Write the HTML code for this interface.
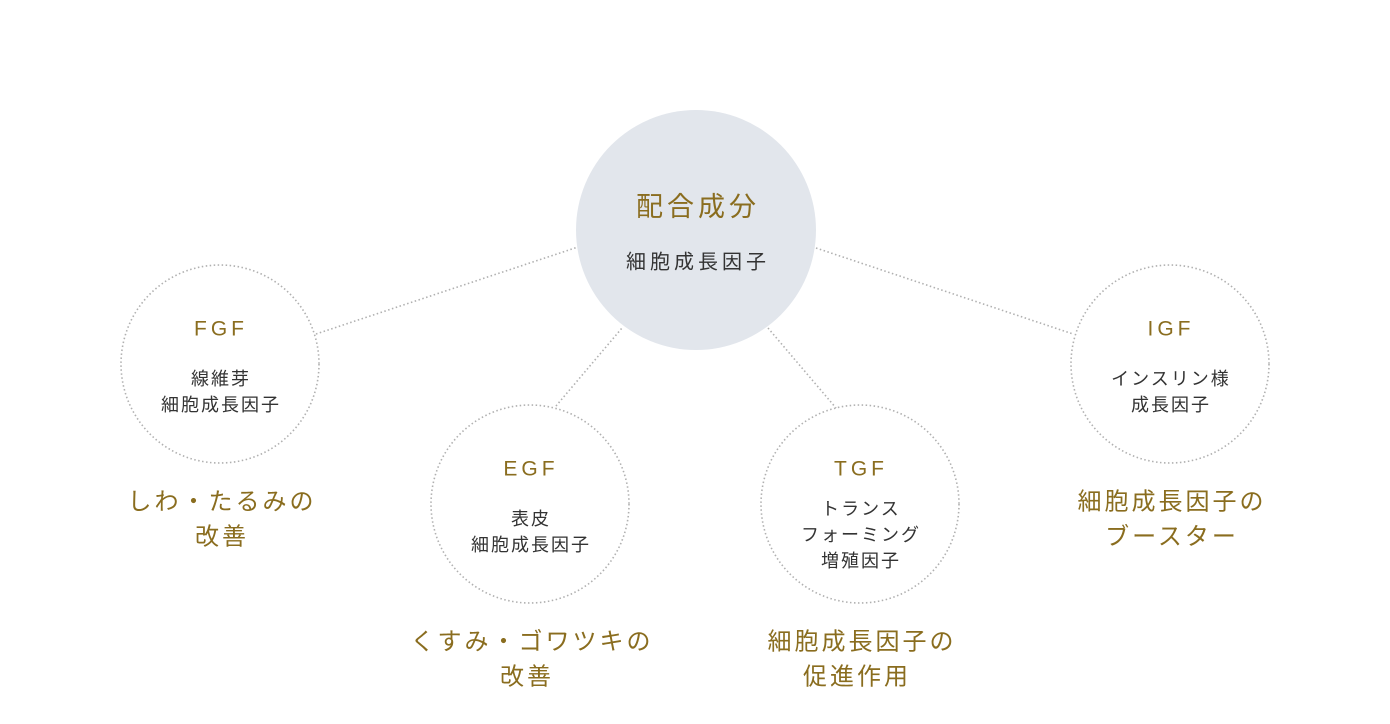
<!DOCTYPE html>
<html><head><meta charset="utf-8"><style>
html,body{margin:0;padding:0;background:#fff;}
svg{display:block;}
text{font-family:"Liberation Sans","Noto Sans CJK JP",sans-serif;text-anchor:middle;dominant-baseline:middle;}
.g{fill:#8a6d1f;}
.d{fill:#333;}
</style></head><body>
<svg width="1390" height="724" viewBox="0 0 1390 724" xmlns="http://www.w3.org/2000/svg">
<g stroke="#b0b0b0" stroke-width="1.6" stroke-dasharray="1.5 2.5" fill="none">
<line x1="316" y1="334" x2="578" y2="247"/>
<line x1="556" y1="406" x2="622" y2="328"/>
<line x1="768" y1="328" x2="836" y2="408"/>
<line x1="816" y1="248" x2="1073" y2="334"/>
<circle cx="220" cy="364" r="99"/>
<circle cx="530" cy="504" r="99"/>
<circle cx="860" cy="504" r="99"/>
<circle cx="1170" cy="364" r="99"/>
</g>
<circle cx="696" cy="230" r="120" fill="#e2e6ec"/>
<text x="698" y="209" class="g" font-size="27" letter-spacing="4">配合成分</text>
<text x="698" y="263" class="d" font-size="20" letter-spacing="4">細胞成長因子</text>

<text x="221" y="330" class="g" font-size="21" letter-spacing="4">FGF</text>
<text x="221" y="380" class="d" font-size="18" letter-spacing="2">線維芽</text>
<text x="221" y="406" class="d" font-size="18" letter-spacing="2">細胞成長因子</text>
<text x="222" y="503" class="g" font-size="24" letter-spacing="3">しわ・たるみの</text>
<text x="222" y="538" class="g" font-size="24" letter-spacing="3">改善</text>

<text x="531" y="470" class="g" font-size="21" letter-spacing="4">EGF</text>
<text x="531" y="520" class="d" font-size="18" letter-spacing="2">表皮</text>
<text x="531" y="546" class="d" font-size="18" letter-spacing="2">細胞成長因子</text>
<text x="532" y="643" class="g" font-size="24" letter-spacing="3">くすみ・ゴワツキの</text>
<text x="527" y="678" class="g" font-size="24" letter-spacing="3">改善</text>

<text x="861" y="470" class="g" font-size="21" letter-spacing="4">TGF</text>
<text x="861" y="510" class="d" font-size="18" letter-spacing="2">トランス</text>
<text x="861" y="536" class="d" font-size="18" letter-spacing="2">フォーミング</text>
<text x="861" y="562" class="d" font-size="18" letter-spacing="2">増殖因子</text>
<text x="862" y="643" class="g" font-size="24" letter-spacing="3">細胞成長因子の</text>
<text x="857" y="678" class="g" font-size="24" letter-spacing="3">促進作用</text>

<text x="1171" y="330" class="g" font-size="21" letter-spacing="4">IGF</text>
<text x="1171" y="380" class="d" font-size="18" letter-spacing="2">インスリン様</text>
<text x="1171" y="406" class="d" font-size="18" letter-spacing="2">成長因子</text>
<text x="1172" y="503" class="g" font-size="24" letter-spacing="3">細胞成長因子の</text>
<text x="1172" y="538" class="g" font-size="24" letter-spacing="3">ブースター</text>
</svg>
</body></html>
